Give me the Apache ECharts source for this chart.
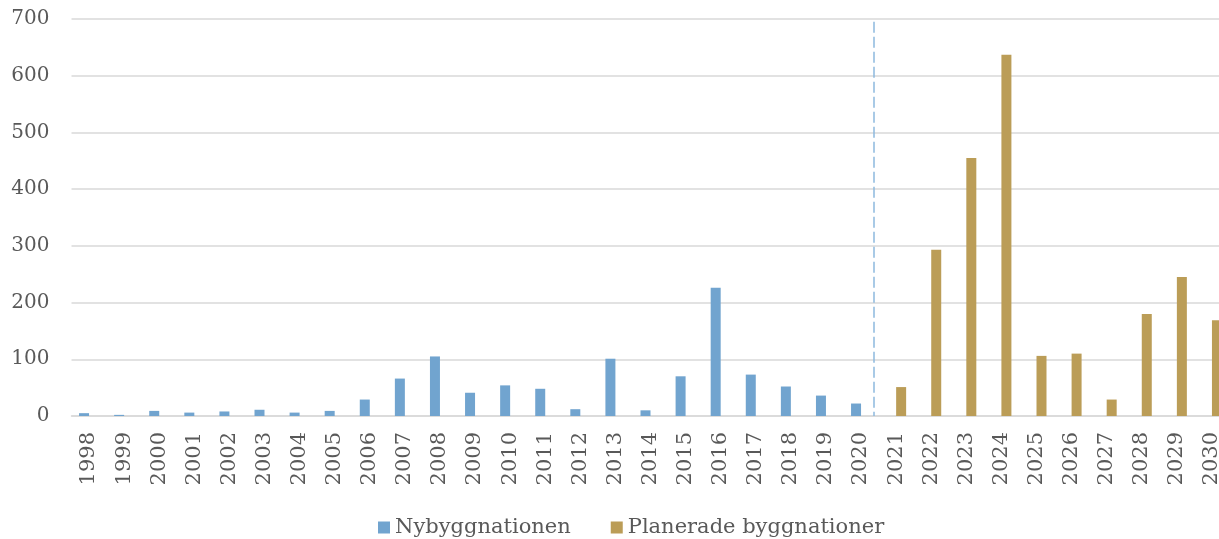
<!DOCTYPE html>
<html>
<head>
<meta charset="utf-8">
<script src="https://cdn.jsdelivr.net/npm/echarts@6/dist/echarts.min.js"></script>
<style>
  html, body { margin: 0; padding: 0; background: #fff; }
  #chart { width: 1219px; height: 539px; }
</style>
</head>
<body>
<div id="chart"></div>
<script>
// år 1998-2030
var years = ['1998', '1999', '2000', '2001', '2002', '2003', '2004', '2005', '2006', '2007', '2008',
  '2009', '2010', '2011', '2012', '2013', '2014', '2015', '2016', '2017', '2018', '2019', '2020',
  '2021', '2022', '2023', '2024', '2025', '2026', '2027', '2028', '2029', '2030']
// genomförd nybyggnation (t.o.m. 2020)
var built = [5, 2, 9, 6, 8, 11, 6, 9, 29, 66, 105, 41, 54, 48, 12, 101, 10, 70, 226, 73, 52, 36, 22,
  null, null, null, null, null, null, null, null, null, null]
// planerade byggnationer (från 2021)
var planned = [null, null, null, null, null, null, null, null, null, null, null, null, null, null,
  null, null, null, null, null, null, null, null, null,
  51, 293, 455, 637, 106, 110, 29, 180, 245, 169]
var yTicks = { min: 0, max: 700, interval: 100 }
var splitAt = 22.35 // skiljelinje mellan utfall och plan (kategoriindex)

var font = 'DejaVu Serif'
var textColor = '#595959'

var chart = echarts.init(document.getElementById('chart'))
var option = {
  animation: false,
  textStyle: { fontFamily: font },
  // diagrammet är beskuret i höger kant, därför går bredden utanför
  grid: { left: 71.5, width: 1158, top: 19, bottom: 123, containLabel: false, outerBoundsMode: 'none' },
  legend: {
    top: 517,
    left: 378,
    padding: 0,
    itemWidth: 12,
    itemHeight: 12,
    itemGap: 40,
    icon: 'rect',
    textStyle: { fontFamily: font, fontSize: 21, color: textColor },
    data: ['Nybyggnationen', 'Planerade byggnationer']
  },
  xAxis: [
    {
      type: 'category',
      data: years,
      axisLine: { show: true, lineStyle: { color: '#D9D9D9', width: 1.5 } },
      axisTick: { show: false },
      axisLabel: {
        interval: 0,
        rotate: 90,
        margin: 16,
        fontFamily: font,
        fontSize: 21,
        color: textColor
      }
    },
    {
      // dold värdeaxel för skiljelinjen
      type: 'value',
      min: -0.5,
      max: years.length - 0.5,
      show: false,
      position: 'bottom'
    }
  ],
  yAxis: {
    type: 'value',
    min: yTicks.min,
    max: yTicks.max,
    interval: yTicks.interval,
    axisLine: { show: false },
    axisTick: { show: false },
    splitLine: { lineStyle: { color: '#D9D9D9', width: 1.5 } },
    axisLabel: { margin: 22, fontFamily: font, fontSize: 20, color: textColor }
  },
  series: [
    {
      name: 'Nybyggnationen',
      type: 'bar',
      data: built,
      barWidth: 10,
      barGap: '0%',
      itemStyle: { color: '#71A4CF' }
    },
    {
      name: 'Planerade byggnationer',
      type: 'bar',
      data: planned,
      barWidth: 10,
      barGap: '0%',
      itemStyle: { color: '#BB9D57' }
    },
    {
      type: 'line',
      xAxisIndex: 1,
      data: [],
      markLine: {
        silent: true,
        symbol: 'none',
        label: { show: false },
        lineStyle: { type: [11, 4], color: '#8DB9DE', width: 1.5 },
        data: [[{ xAxis: splitAt, yAxis: 695 }, { xAxis: splitAt, yAxis: 0 }]]
      }
    }
  ]
}
chart.setOption(option)
window.addEventListener('resize', function () { chart.resize() })
</script>
</body>
</html>
